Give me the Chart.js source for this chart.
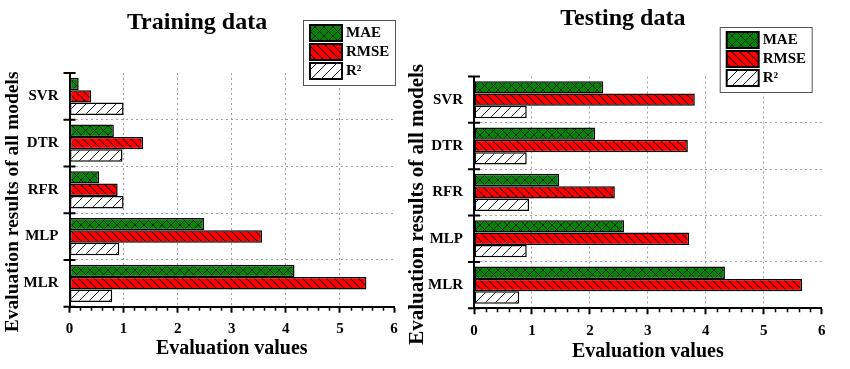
<!DOCTYPE html>
<html>
<head>
<meta charset="utf-8">
<script src="https://cdn.jsdelivr.net/npm/chart.js@4.4.0/dist/chart.umd.min.js"></script>
<style>
  html, body { margin: 0; padding: 0; background: #fff; }
  #wrap { position: relative; width: 850px; height: 369px; }
  #train { position: absolute; left: 0; top: 0; }
  #test { position: absolute; left: 408px; top: 0; }
</style>
</head>
<body>
<div id="wrap">
  <canvas id="train" width="408" height="369"></canvas>
  <canvas id="test" width="442" height="369"></canvas>
</div>
<script>
// categories and series
const models = ["SVR", "DTR", "RFR", "MLP", "MLR"];
const seriesNames = ["MAE", "RMSE", "R²"];
const xTicks = [0, 1, 2, 3, 4, 5, 6];

// training data
const trainMAE = [0.17, 0.82, 0.55, 2.49, 4.16];
const trainRMSE = [0.40, 1.36, 0.89, 3.56, 5.49];
const trainR2 = [1.00, 0.98, 1.00, 0.92, 0.79];

// testing data
const testMAE = [2.23, 2.09, 1.47, 2.59, 4.33];
const testRMSE = [3.81, 3.69, 2.43, 3.71, 5.66];
const testR2 = [0.91, 0.91, 0.95, 0.91, 0.78];

const SERIF = "'Liberation Serif', 'Times New Roman', serif";
Chart.defaults.color = "#000";
Chart.defaults.font.family = SERIF;
Chart.defaults.font.weight = "bold";

function hatch(bg, size, lineColor, lineWidth, dirs) {
  const c = document.createElement("canvas");
  c.width = size;
  c.height = size;
  const g = c.getContext("2d");
  g.fillStyle = bg;
  g.fillRect(0, 0, size, size);
  g.strokeStyle = lineColor;
  g.lineWidth = lineWidth;
  g.beginPath();
  for (const o of [-size, 0, size]) {
    if (dirs.includes("\\")) { g.moveTo(o, 0); g.lineTo(o + size, size); }
    if (dirs.includes("/")) { g.moveTo(o, size); g.lineTo(o + size, 0); }
  }
  g.stroke();
  return g.createPattern(c, "repeat");
}

const patterns = [
  hatch("#0a820a", 9, "#062e06", 1, "\\/"),
  hatch("#ff0000", 8, "#4a0000", 1.2, "\\"),
  hatch("#ffffff", 10, "#222", 1, "/"),
];

// extra decorations: minor ticks, crossing category ticks, y title, boxed legend
const decor = {
  id: "decor",
  afterDraw(chart, args, o) {
    const ctx = chart.ctx;
    const area = chart.chartArea;
    const xs = chart.scales.x;
    const ys = chart.scales.y;
    ctx.save();

    // minor ticks on x
    ctx.strokeStyle = "#000";
    ctx.lineWidth = 1.5;
    ctx.beginPath();
    for (let i = 1; i < 30; i++) {
      if (i % 5 === 0) continue;
      const px = Math.round(xs.getPixelForValue(i / 5)) + 0.5;
      ctx.moveTo(px, area.bottom);
      ctx.lineTo(px, area.bottom + 4);
    }
    ctx.stroke();

    // ticks crossing the y axis at category boundaries
    const step = ys.getPixelForValue(1) - ys.getPixelForValue(0);
    ctx.lineWidth = 2;
    ctx.beginPath();
    for (let i = 0; i <= models.length; i++) {
      const py = ys.getPixelForValue(i) - step / 2;
      ctx.moveTo(area.left - 6, py);
      ctx.lineTo(area.left + 6, py);
    }
    ctx.stroke();

    // y axis title
    ctx.fillStyle = "#000";
    ctx.font = "bold " + o.yTitleSize + "px " + SERIF;
    ctx.textAlign = "center";
    ctx.textBaseline = "middle";
    ctx.translate(o.yTitleX, (area.top + area.bottom) / 2 + o.yTitleShift);
    ctx.rotate(-Math.PI / 2);
    ctx.fillText(o.yTitle, 0, 0);
    ctx.setTransform(1, 0, 0, 1, 0, 0);

    // legend box
    const bw = 92, bh = 65;
    const bx = area.right + o.legendDx - bw;
    const by = o.legendTop;
    ctx.fillStyle = "#fff";
    ctx.fillRect(bx, by, bw, bh);
    ctx.strokeStyle = "#555";
    ctx.lineWidth = 1;
    ctx.strokeRect(bx + 0.5, by + 0.5, bw, bh);
    chart.data.datasets.forEach((ds, i) => {
      const sy = by + 5 + i * 19;
      ctx.fillStyle = ds.backgroundColor;
      ctx.fillRect(bx + 7, sy, 32, 16);
      ctx.strokeStyle = "#000";
      ctx.lineWidth = 2;
      ctx.strokeRect(bx + 7, sy, 32, 16);
      ctx.fillStyle = "#000";
      ctx.font = "bold 15px " + SERIF;
      ctx.textAlign = "left";
      ctx.textBaseline = "middle";
      ctx.fillText(ds.label, bx + 43, sy + 8);
    });
    ctx.restore();
  },
};

function makeChart(id, title, values, g) {
  return new Chart(document.getElementById(id), {
    type: "bar",
    data: {
      labels: models,
      datasets: seriesNames.map((name, i) => ({
        label: name,
        data: values[i],
        backgroundColor: patterns[i],
        borderColor: "#000",
        borderWidth: 1.5,
        borderSkipped: false,
        categoryPercentage: 0.8,
        barPercentage: 1.0,
      })),
    },
    options: {
      indexAxis: "y",
      responsive: false,
      animation: false,
      events: [],
      layout: { padding: { left: g.padLeft, right: g.padRight, top: 0, bottom: 0 } },
      plugins: {
        legend: { display: false },
        tooltip: { enabled: false },
        title: {
          display: true,
          text: title,
          color: "#000",
          font: { size: 24, weight: "bold", family: SERIF },
          padding: { top: g.titleTop, bottom: g.titleBottom },
        },
        decor: {
          yTitle: "Evaluation results of all models",
          yTitleX: g.yTitleX,
          yTitleSize: g.yTitleSize,
          yTitleShift: 12,
          legendDx: g.legendDx,
          legendTop: g.legendTop,
        },
      },
      scales: {
        x: {
          min: 0,
          max: 6,
          afterBuildTicks: (s) => { s.ticks = xTicks.map((v) => ({ value: v })); },
          afterFit: (s) => { s.height = g.xHeight; },
          border: { display: true, color: "#000", width: 2, dash: [2, 3] },
          grid: {
            color: (c) => (c.tick && c.tick.value > 0 && c.tick.value < 6 ? "#a0a0a0" : "rgba(0,0,0,0)"),
            lineWidth: 1,
            drawTicks: true,
            tickLength: 6,
            tickColor: "#000",
            tickWidth: 2,
            tickBorderDash: [],
          },
          ticks: { font: { size: 15, weight: "bold" }, padding: 7.5, color: "#000" },
          title: {
            display: true,
            text: "Evaluation values",
            color: "#000",
            font: { size: 20, weight: "bold" },
            padding: { top: 0, bottom: g.xTitleBottom },
          },
        },
        y: {
          afterFit: (s) => { s.width = g.yWidth; },
          border: { display: true, color: "#000", width: 2, dash: [2, 3] },
          grid: {
            color: (c) => (c.index > 0 ? "#a0a0a0" : "rgba(0,0,0,0)"),
            lineWidth: 1,
            drawTicks: false,
          },
          ticks: { font: { size: 15, weight: "bold" }, padding: 11, color: "#000" },
        },
      },
    },
    plugins: [decor],
  });
}

makeChart("train", "Training data", [trainMAE, trainRMSE, trainR2], {
  padLeft: 0, padRight: 14, yWidth: 69.5,
  titleTop: 8.6, titleBottom: 35.6,
  xHeight: 62.3, xTitleBottom: 8.5,
  yTitleX: 13, yTitleSize: 19.5,
  legendDx: 1, legendTop: 20,
});

makeChart("test", "Testing data", [testMAE, testRMSE, testR2], {
  padLeft: 16, padRight: 28.3, yWidth: 50,
  titleTop: 4, titleBottom: 43.7,
  xHeight: 60.7, xTitleBottom: 5.5,
  yTitleX: 10, yTitleSize: 21,
  legendDx: -10, legendTop: 27,
});
</script>
</body>
</html>
